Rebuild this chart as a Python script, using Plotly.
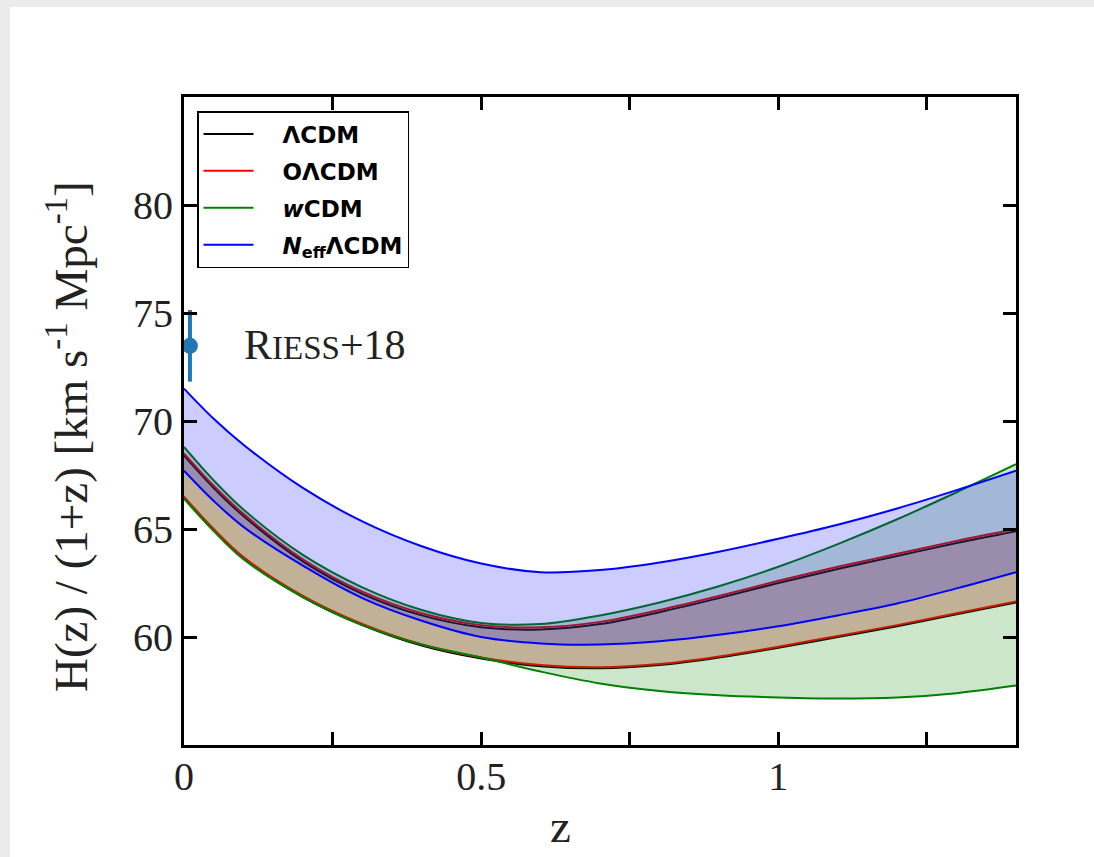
import plotly.graph_objects as go

# ---------------- data ----------------
z = [0.0, 0.05, 0.1, 0.2, 0.3, 0.4, 0.5, 0.6, 0.7, 0.8, 0.9, 1.0, 1.1, 1.2, 1.3, 1.4]

lcdm_upper = [68.4, 66.9, 65.6, 63.5, 62.0, 61.0, 60.45, 60.35, 60.6, 61.15, 61.8, 62.5, 63.15, 63.75, 64.35, 64.9]
lcdm_lower = [66.45, 64.95, 63.65, 61.85, 60.55, 59.6, 59.0, 58.65, 58.55, 58.7, 59.05, 59.5, 60.0, 60.5, 61.05, 61.6]

olcdm_upper = [68.5, 67.0, 65.7, 63.6, 62.1, 61.1, 60.55, 60.45, 60.7, 61.25, 61.9, 62.6, 63.25, 63.85, 64.45, 65.0]
olcdm_lower = [66.5, 65.0, 63.7, 61.9, 60.6, 59.65, 59.05, 58.7, 58.6, 58.75, 59.1, 59.55, 60.05, 60.55, 61.1, 61.65]

wcdm_upper = [68.8, 67.25, 65.9, 63.8, 62.3, 61.25, 60.65, 60.6, 61.0, 61.6, 62.35, 63.25, 64.3, 65.45, 66.7, 68.0]
wcdm_lower = [66.4, 64.9, 63.6, 61.85, 60.55, 59.65, 59.05, 58.4, 57.85, 57.5, 57.3, 57.2, 57.15, 57.2, 57.4, 57.75]

neff_upper = [71.5, 70.1, 68.9, 66.9, 65.35, 64.2, 63.4, 63.0, 63.1, 63.45, 63.95, 64.55, 65.2, 65.95, 66.8, 67.7]
neff_lower = [67.7, 66.3, 65.1, 63.3, 61.8, 60.75, 60.0, 59.7, 59.65, 59.8, 60.1, 60.5, 61.0, 61.55, 62.25, 63.0]

riess_z = [0.01]
riess_h = [73.48]
riess_err = [1.66]

x_tickvals = [0, 0.5, 1.0]
x_ticktext = ["0", "0.5", "1"]
x_minor_tickvals = [0.25, 0.75, 1.25]
y_tickvals = [60, 65, 70, 75, 80]
y_ticktext = ["60", "65", "70", "75", "80"]

model_names = ["ΛCDM", "OΛCDM", "<i>w</i>CDM", "<i>N</i><sub>eff</sub>ΛCDM"]
model_colors = ["black", "red", "green", "blue"]
model_fills = ["rgba(0,0,0,0.07)", "rgba(255,0,0,0.2)", "rgba(0,128,0,0.2)", "rgba(0,0,255,0.2)"]
bands = [(lcdm_upper, lcdm_lower), (olcdm_upper, olcdm_lower),
         (wcdm_upper, wcdm_lower), (neff_upper, neff_lower)]

# ---------------- figure ----------------
W, H = 1094, 857
L, R, T, B = 184, 1016, 97, 745  # plot area in pixels


def px_x(p):
    return (p - L) / (R - L)


def px_y(p):
    return (B - p) / (B - T)


PAD = "\u00a0\u00a0\u00a0"  # gap between legend line sample and label

fig = go.Figure()

for i, (name, (up, lo), col, fillcol) in enumerate(zip(model_names, bands, model_colors, model_fills)):
    fig.add_trace(go.Scatter(
        x=z, y=up, mode="lines", name=PAD + name, legendgroup=f"g{i}",
        line=dict(color=col, width=2, shape="spline"), showlegend=True,
    ))
    fig.add_trace(go.Scatter(
        x=z, y=lo, mode="lines", name=name, legendgroup=f"g{i}",
        line=dict(color=col, width=2, shape="spline"), fill="tonexty",
        fillcolor=fillcol, showlegend=False,
    ))

fig.add_trace(go.Scatter(
    x=riess_z, y=riess_h, mode="markers", showlegend=False, name="Riess+18",
    marker=dict(color="#1f77b4", size=16),
    error_y=dict(type="data", array=riess_err, visible=True, color="#1f77b4",
                 thickness=4, width=0),
    cliponaxis=False,
))

serif = "Liberation Serif, Times New Roman, serif"
tick_font = dict(family=serif, size=40, color="#222")
title_font = dict(family=serif, size=47, color="#222")

fig.update_layout(
    width=W, height=H,
    margin=dict(l=L, r=W - R, t=T, b=H - B, pad=0),
    paper_bgcolor="#ebebeb",
    plot_bgcolor="white",
    showlegend=True,
    legend=dict(
        x=px_x(197), y=px_y(111), xanchor="left", yanchor="top",
        bgcolor="white", bordercolor="black", borderwidth=1.5,
        font=dict(family="DejaVu Sans", size=23, color="black", weight="bold"),
        tracegroupgap=4, traceorder="grouped", itemwidth=50,
    ),
    xaxis=dict(
        range=[0, 1.4], showgrid=False, zeroline=False,
        showline=True, linecolor="black", linewidth=3, mirror="allticks",
        ticks="inside", ticklen=13, tickwidth=2.5, tickcolor="black",
        tickvals=x_tickvals, ticktext=x_ticktext, tickfont=tick_font,
        ticklabelstandoff=-6,
        minor=dict(tickvals=x_minor_tickvals, ticks="inside", ticklen=13,
                   tickwidth=2.5, tickcolor="black", showgrid=False),
    ),
    yaxis=dict(
        range=[55, 85], showgrid=False, zeroline=False,
        showline=True, linecolor="black", linewidth=3, mirror="allticks",
        ticks="inside", ticklen=13, tickwidth=2.5, tickcolor="black",
        tickvals=y_tickvals, ticktext=y_ticktext, tickfont=tick_font,
    ),
    shapes=[dict(type="rect", xref="paper", yref="paper", layer="below",
                 x0=px_x(10), x1=px_x(W + 5), y0=px_y(H + 5), y1=px_y(7),
                 fillcolor="white", line=dict(width=0))],
    annotations=[
        dict(text="z", xref="paper", yref="paper", x=px_x(560), y=px_y(826),
             showarrow=False, font=title_font,
             xanchor="center", yanchor="middle"),
        dict(text="H(z) / (1+z) [km s<sup>-1</sup> Mpc<sup>-1</sup>]",
             xref="paper", yref="paper", x=px_x(67), y=px_y(437), textangle=-90,
             showarrow=False, font=title_font,
             xanchor="center", yanchor="middle"),
        dict(text="R<span style='font-size:33px'>IESS</span>+18",
             xref="paper", yref="paper", x=px_x(242), y=px_y(345),
             showarrow=False, font=dict(family=serif, size=42, color="#222"),
             xanchor="left", yanchor="middle"),
    ],
)

fig.write_html("out.html")
